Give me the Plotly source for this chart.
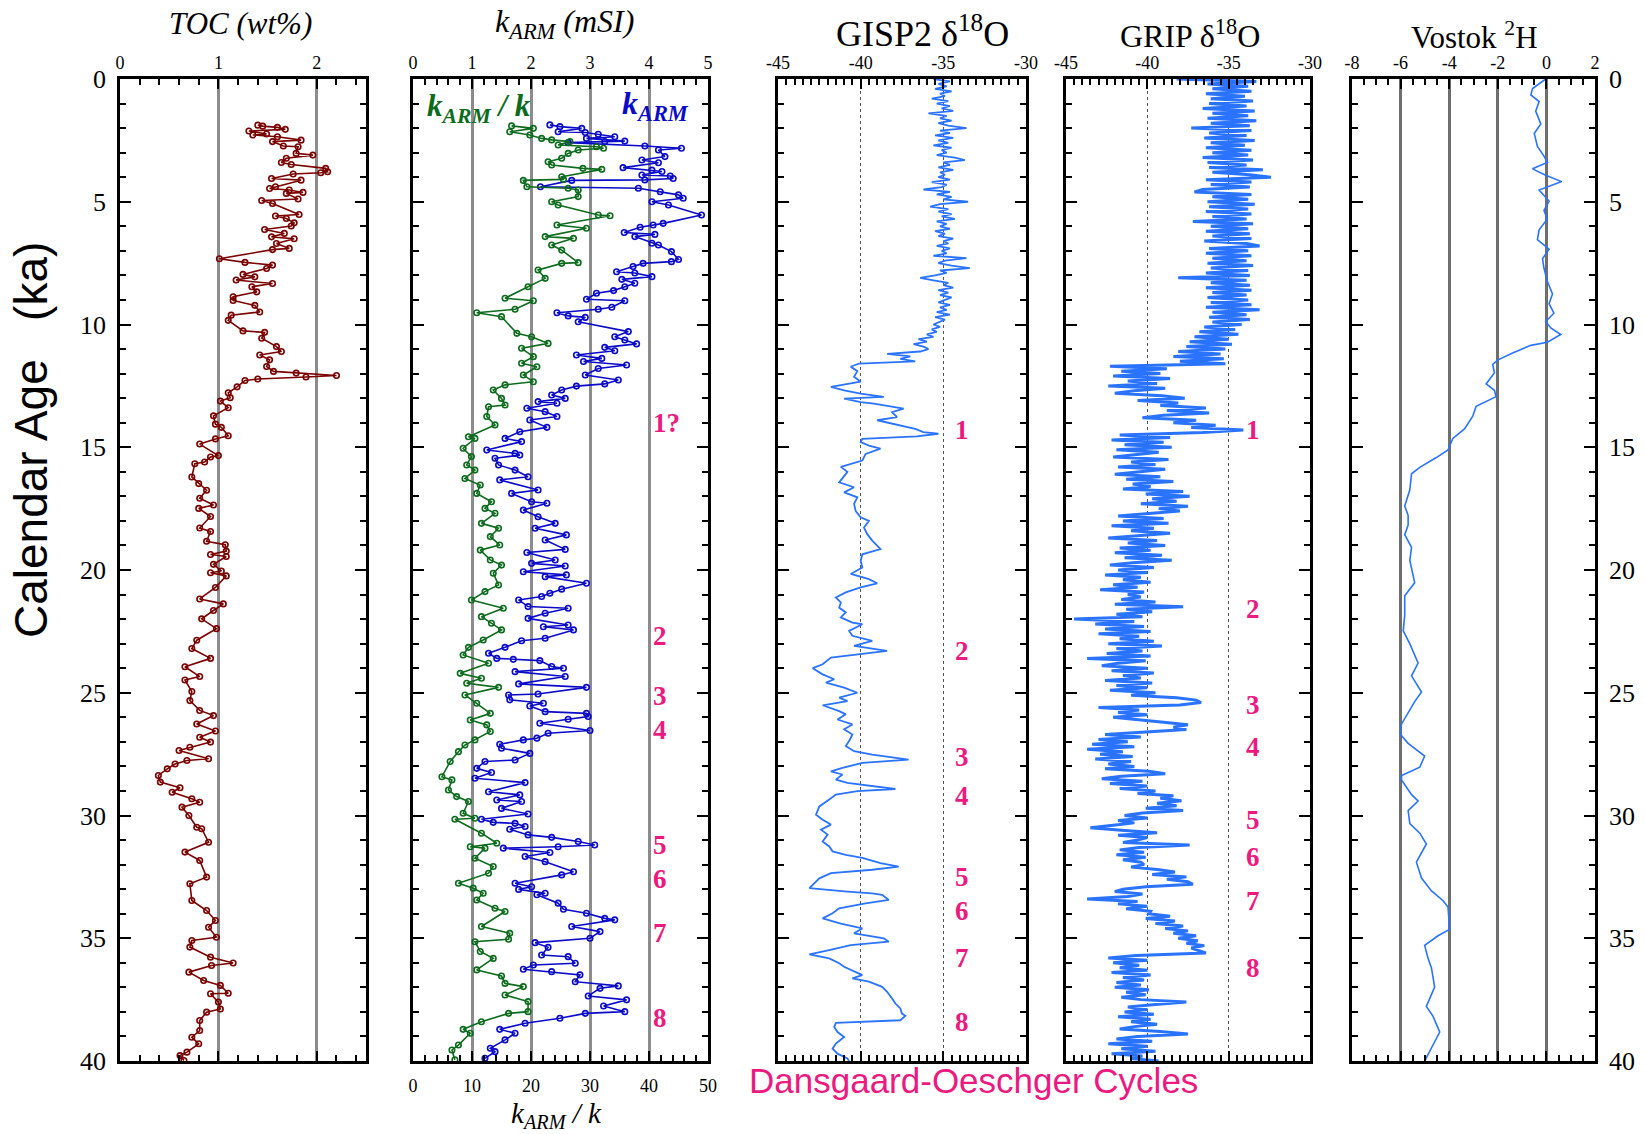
import plotly.graph_objects as go

# ---------------- DATA ----------------
TOC_AGE = [1.88,1.92,1.97,2.05,2.12,2.24,2.28,2.35,2.49,2.55,2.73,2.76,3.03,3.10,3.23,3.40,3.48,3.64,3.78,3.82,3.87,
           4.05,4.12,4.39,4.46,4.52,4.62,4.66,4.89,4.95,5.07,5.52,5.58,5.68,5.86,5.99,6.13,6.29,6.43,6.51,6.70,6.90,6.95,
           7.32,7.47,7.58,7.72,7.96,8.06,8.19,8.33,8.46,8.67,8.87,9.02,9.22,9.49,9.62,9.83,10.26,10.32,10.56,10.90,11.10,
           11.24,11.44,11.71,11.91,11.98,12.08,12.14,12.22,12.28,12.54,12.78,12.98,13.12,13.39,13.72,14.06,14.19,14.53,
           14.66,14.87,15.34,15.40,15.60,15.67,16.21,16.48,16.75,17.08,17.35,17.49,17.82,18.29,18.43,18.83,18.97,19.23,
           19.37,19.45,19.77,20.04,20.11,20.24,20.71,21.18,21.38,21.65,21.99,22.39,22.86,23.20,23.60,23.94,24.34,24.48,
           24.95,25.32,25.72,25.93,26.27,26.56,26.81,27.01,27.22,27.35,27.69,27.76,27.90,28.10,28.37,28.64,28.87,29.05,
           29.32,29.46,29.66,30.00,30.48,30.54,31.09,31.49,31.83,32.51,32.78,33.46,33.87,34.28,34.55,34.96,35.09,35.36,
           35.77,36.01,36.11,36.38,36.72,36.92,37.24,37.26,37.60,37.88,38.01,38.35,38.76,39.03,39.30,39.64,39.78,39.98]
TOC_VAL = [1.40,1.45,1.60,1.68,1.31,1.49,1.35,1.60,1.84,1.55,1.66,1.81,1.79,1.96,1.69,1.64,1.74,2.09,2.11,2.04,1.76,
           1.54,1.84,1.58,1.52,1.72,1.86,1.69,1.81,1.44,1.55,1.82,1.58,1.69,1.77,1.74,1.47,1.67,1.54,1.77,1.59,1.72,1.55,
           1.01,1.27,1.55,1.49,1.25,1.37,1.18,1.55,1.34,1.39,1.15,1.15,1.37,1.42,1.13,1.10,1.25,1.47,1.44,1.59,1.64,
           1.42,1.52,1.49,1.56,1.79,2.20,1.89,1.40,1.27,1.19,1.10,1.12,1.02,1.10,0.95,0.97,1.03,1.10,
           0.97,0.81,1.00,0.92,0.86,0.76,0.73,0.80,0.88,0.81,0.95,0.80,0.92,0.81,0.92,0.88,1.07,1.08,
           0.92,1.08,0.95,1.03,0.92,1.08,0.97,0.81,1.05,0.95,0.83,0.98,0.78,0.73,0.92,0.66,0.81,0.66,
           0.73,0.71,0.81,0.95,0.78,0.97,0.81,0.92,0.71,0.60,0.90,0.68,0.56,0.48,0.39,0.41,0.61,0.53,
           0.73,0.81,0.63,0.70,0.78,0.83,0.90,0.66,0.81,0.88,0.71,0.73,0.88,0.97,0.90,0.98,0.73,0.71,
           0.92,1.15,0.93,0.70,0.85,1.02,1.10,0.92,1.00,1.02,0.88,0.81,0.81,0.73,0.80,0.68,0.61,0.65]

KARM_AGE = [1.87,1.94,2.01,2.15,2.18,2.25,2.35,2.42,2.53,2.55,2.59,2.73,2.82,2.89,3.16,3.30,3.41,3.61,3.71,3.77,3.91,
            3.95,4.05,4.11,4.13,4.39,4.45,4.59,4.72,4.86,5.00,5.13,5.54,5.88,5.95,6.04,6.25,6.33,6.42,6.69,6.76,7.03,
            7.35,7.44,7.51,7.64,7.85,7.90,8.05,8.16,8.32,8.46,8.62,8.73,8.97,9.03,9.30,9.38,9.52,9.65,9.71,9.89,10.29,
            10.50,10.63,10.79,10.93,11.07,11.24,11.38,11.51,11.65,11.79,12.06,12.26,12.42,12.51,12.67,12.87,13.01,13.14,
            13.21,13.41,13.55,13.75,13.89,14.19,14.37,14.64,14.77,15.11,15.25,15.32,15.45,15.72,15.93,16.20,16.33,16.74,
            16.88,17.22,17.28,17.56,17.83,18.10,18.30,18.57,18.78,19.16,19.29,19.59,19.73,19.84,20.07,20.20,20.27,20.54,
            20.78,20.95,21.08,21.22,21.49,21.56,21.76,21.97,22.24,22.31,22.44,22.78,22.88,23.15,23.39,23.60,23.64,23.69,
            23.93,24.00,24.14,24.34,24.64,24.78,25.05,25.09,25.29,25.43,25.54,25.77,25.84,25.97,26.08,26.24,26.54,26.65,
            26.85,26.92,27.10,27.26,27.47,27.74,27.80,28.08,28.25,28.48,28.66,29.03,29.16,29.37,29.43,29.71,29.94,30.15,
            30.28,30.32,30.45,30.56,30.79,30.89,31.06,31.20,31.27,31.33,31.51,31.67,31.88,32.29,32.42,32.76,32.90,33.01,
            33.17,33.23,33.57,33.82,33.98,34.19,34.25,34.52,34.73,35.00,35.18,35.37,35.68,35.75,36.02,36.09,36.26,36.36,
            36.49,36.77,36.94,37.04,37.35,37.51,37.76,37.99,38.06,38.26,38.46,38.71,38.87,39.14,39.48,39.62,39.89]
KARM_VAL = [2.32,2.49,2.86,2.46,2.92,3.14,3.42,2.94,3.59,3.25,2.63,3.93,4.55,4.16,4.27,3.88,4.16,3.56,4.05,4.22,3.88,
            4.36,4.41,3.93,2.69,2.16,3.82,4.19,4.50,4.58,4.05,4.33,4.89,4.24,4.07,3.85,3.58,4.10,3.76,4.05,4.16,4.38,
            4.50,4.38,3.90,3.73,3.45,3.76,4.05,3.54,3.76,3.59,3.40,3.11,2.94,3.59,3.37,3.14,2.44,2.63,2.92,2.80,3.65,
            3.42,3.59,3.79,3.25,3.42,2.77,3.20,2.89,3.62,3.14,2.92,3.48,3.25,2.77,2.52,2.35,2.58,2.12,
            2.44,1.93,2.24,2.44,1.98,2.27,1.81,1.56,1.84,1.25,1.73,1.81,1.39,1.45,1.73,1.95,1.47,2.12,
            1.67,2.01,2.27,1.87,2.12,2.41,2.07,2.60,2.24,2.58,1.93,2.41,2.01,2.58,1.87,2.60,2.24,2.94,
            2.52,2.32,2.18,1.79,1.95,2.63,2.24,1.95,2.63,2.21,2.72,2.24,1.84,1.56,1.28,1.42,1.70,2.15,
            2.35,2.55,1.73,2.58,1.79,2.94,2.12,1.62,1.64,2.21,1.98,2.24,2.94,2.97,2.63,2.15,3.00,2.29,
            2.10,1.87,1.47,1.50,1.98,1.73,1.22,1.08,1.33,1.05,1.90,1.28,1.81,1.42,1.84,1.50,1.95,1.16,
            1.36,1.73,1.90,1.64,1.95,2.35,2.80,3.08,2.46,1.53,2.32,1.90,2.24,2.72,2.52,1.73,2.01,1.79,
            2.24,2.10,2.46,2.55,2.94,3.25,3.42,2.69,3.17,3.00,2.07,2.29,2.18,2.63,2.75,2.04,1.87,2.35,
            2.83,2.75,3.48,3.17,2.97,3.62,3.23,3.59,2.92,2.49,1.90,1.47,1.73,1.56,1.31,1.39,1.22]

KRATIO_AGE = [1.91,2.01,2.15,2.28,2.42,2.48,2.55,2.69,2.76,2.82,2.89,3.03,3.23,3.37,3.50,3.64,3.68,3.98,4.09,4.13,
              4.39,4.45,4.52,4.79,5.00,5.13,5.54,5.57,5.95,6.08,6.42,6.49,6.76,6.97,7.48,7.51,7.78,8.12,8.46,8.93,
              9.03,9.38,9.52,9.68,10.36,10.50,10.77,10.97,11.31,11.58,11.72,12.06,12.33,12.46,12.67,13.01,13.28,
              13.35,13.75,14.09,14.57,14.64,15.04,15.38,15.72,15.93,16.27,16.54,16.88,17.22,17.49,17.69,18.10,
              18.30,18.64,18.98,19.19,19.59,19.80,20.13,20.61,20.88,21.22,21.56,21.90,22.17,22.44,22.85,23.15,
              23.46,23.80,24.21,24.41,24.61,24.78,25.09,25.43,25.84,26.11,26.31,26.58,26.92,27.13,27.40,27.80,
              28.42,28.55,28.96,29.23,29.43,29.91,30.11,30.15,30.72,31.13,31.27,31.33,31.74,32.08,32.35,32.76,
              32.96,33.17,33.44,33.78,33.91,34.52,34.80,35.04,35.14,35.54,35.82,36.29,36.54,36.84,36.97,37.31,
              37.58,37.99,38.06,38.40,38.71,38.87,39.35,39.55,39.95]
KRATIO_VAL = [16.7,20.4,16.4,19.8,21.8,23.5,26.6,24.6,31.1,32.3,28.0,26.3,25.2,22.9,23.5,28.8,32.0,25.2,25.5,18.7,
              19.3,26.3,28.0,28.0,23.5,24.6,31.4,33.4,24.4,29.4,22.4,27.2,23.5,25.2,28.0,25.2,21.2,22.4,19.5,15.6,
              20.4,17.3,10.8,15.0,17.6,20.1,22.9,18.4,20.4,18.4,21.0,18.7,20.4,15.6,13.6,15.0,15.6,
              12.8,12.5,13.9,9.4,10.5,8.5,9.9,9.1,10.5,8.8,11.4,10.8,13.3,12.2,13.9,11.6,
              14.5,13.1,14.7,11.4,13.1,15.0,13.6,14.5,12.2,9.9,15.3,11.6,13.3,15.0,11.9,9.4,
              8.5,12.8,8.0,11.6,9.1,14.5,8.8,10.8,13.1,9.7,12.5,13.1,10.5,8.8,7.7,6.3,
              4.9,6.6,6.0,7.4,9.4,8.5,10.5,7.1,11.6,14.2,9.7,12.2,10.5,13.6,12.8,7.7,
              10.2,11.9,10.8,13.9,15.6,11.6,16.4,16.2,10.5,11.4,13.6,10.8,15.0,15.6,18.7,15.6,
              19.5,19.5,16.2,11.6,8.5,9.7,7.7,6.6,7.1]

GISP2_AGE = [0.0,0.1,0.2,0.3,0.4,0.5,0.6,0.7,0.8,0.9,1.0,1.1,1.2,1.3,1.4,1.5,1.6,1.7,1.8,1.9,
             2.0,2.1,2.2,2.3,2.4,2.5,2.6,2.7,2.8,2.9,3.0,3.1,3.2,3.3,3.4,3.5,3.6,3.7,3.8,3.9,
             4.0,4.1,4.2,4.3,4.4,4.5,4.6,4.7,4.8,4.9,5.0,5.1,5.2,5.3,5.4,5.5,5.6,5.7,5.8,5.9,
             6.0,6.1,6.2,6.3,6.4,6.5,6.6,6.7,6.8,6.9,7.0,7.1,7.2,7.3,7.4,7.5,7.6,7.7,7.8,7.9,
             8.0,8.1,8.2,8.3,8.4,8.5,8.6,8.7,8.8,8.9,9.0,9.1,9.2,9.3,9.4,9.5,9.6,9.7,9.8,9.9,
             10.0,10.1,10.2,10.3,10.4,10.5,10.6,10.7,10.8,10.9,11.0,11.1,11.2,11.3,11.4,11.5,
             11.59,11.72,11.9,12.13,12.33,12.54,12.68,12.82,12.95,13.02,13.16,13.22,13.43,13.57,13.77,13.9,14.04,
             14.25,14.38,14.45,14.56,14.66,14.79,14.93,15.06,15.27,15.54,15.8,16.0,16.43,16.63,16.84,17.04,17.31,
             17.6,17.85,18.0,18.27,18.54,18.8,19.15,19.36,19.63,19.9,20.16,20.37,20.54,20.71,20.91,21.12,21.32,
             21.53,21.73,21.93,22.14,22.21,22.48,22.68,22.89,23.09,23.29,23.43,23.57,23.84,24.0,24.25,24.45,24.59,
             24.79,25.0,25.2,25.34,25.51,25.75,25.88,26.09,26.29,26.49,26.7,26.97,27.17,27.38,27.52,27.72,27.86,
             28.06,28.2,28.33,28.54,28.67,28.81,28.92,29.01,29.15,29.35,29.63,29.97,30.17,30.37,30.58,30.78,31.06,
             31.26,31.46,31.6,31.73,31.94,32.08,32.21,32.35,32.56,32.76,32.96,33.1,33.17,33.23,33.44,33.58,33.78,
             33.98,34.19,34.4,34.6,34.8,35.0,35.14,35.28,35.48,35.66,35.82,36.02,36.16,36.3,36.5,36.63,36.77,36.98,
             37.18,37.45,37.66,37.86,38.07,38.16,38.34,38.45,38.61,38.82,39.02,39.29,39.5,39.7,39.9,40.0]
GISP2_VAL = [-35.6,-34.6,-35.3,-34.8,-35.5,-34.5,-35.2,-34.9,-35.7,-34.7,
             -35.4,-34.6,-35.1,-34.4,-35.9,-34.8,-35.2,-34.5,-35.3,-34.7,
             -33.6,-35.2,-34.6,-35.5,-34.4,-35.3,-34.7,-35.6,-34.5,-35.1,
             -34.8,-35.4,-34.3,-33.7,-35.0,-34.6,-35.3,-34.4,-35.2,-34.9,
             -35.3,-34.6,-35.7,-34.8,-35.1,-36.2,-34.6,-35.4,-34.5,-35.0,
             -33.5,-35.2,-35.8,-34.7,-35.3,-34.5,-35.1,-34.3,-35.4,-34.8,
             -35.2,-34.6,-35.5,-34.9,-35.3,-34.4,-35.0,-34.7,-35.4,-34.6,
             -35.1,-34.8,-35.6,-33.6,-34.9,-35.3,-34.5,-33.4,-35.2,-34.8,
             -35.5,-36.4,-35.6,-34.7,-35.0,-34.4,-35.3,-34.7,-35.2,-34.5,
             -34.9,-35.3,-34.6,-35.2,-34.8,-35.4,-34.6,-35.5,-34.9,-35.3,
             -35.6,-35.2,-35.7,-35.4,-36.0,-35.6,-36.5,-36.0,-36.8,-36.2,
             -35.9,-36.4,-38.4,-37.0,-37.6,-36.7,
             -40.1,-40.6,-40.2,-40.4,-40.0,-41.8,-41.0,-40.0,-38.6,-41.0,-40.0,-39.2,-37.4,-38.1,-37.8,-39.0,-38.1,
             -36.7,-36.2,-35.3,-36.6,-39.9,-40.0,-39.5,-38.8,-39.7,-39.9,-41.2,-40.8,-41.3,-40.4,-41.0,-40.2,-40.4,
             -40.3,-40.0,-39.5,-39.8,-39.6,-39.3,-38.8,-39.9,-40.0,-39.9,-40.6,-39.5,-39.0,-40.0,-40.9,-41.5,-41.2,
             -41.3,-40.9,-41.2,-40.5,-39.9,-40.7,-40.5,-39.3,-40.4,-38.4,-40.2,-41.8,-42.3,-42.9,-42.3,-41.6,-42.1,
             -41.0,-40.2,-41.3,-40.8,-42.3,-41.3,-40.9,-41.4,-40.5,-41.0,-40.5,-40.7,-40.9,-40.4,-39.3,-37.1,-39.9,
             -41.1,-41.8,-41.1,-41.5,-40.8,-39.0,-37.9,-40.2,-41.5,-41.9,-42.5,-42.7,-42.3,-41.8,-42.4,-42.0,-42.3,
             -41.9,-41.7,-40.9,-39.9,-38.8,-37.7,-39.3,-41.8,-42.5,-42.8,-43.1,-40.8,-39.3,-38.7,-38.3,-39.7,-41.3,
             -41.7,-42.3,-41.2,-39.9,-40.4,-38.6,-38.3,-40.6,-41.9,-43.1,-41.9,-41.3,-41.0,-40.5,-39.9,-40.5,-39.5,-38.7,
             -38.4,-38.1,-37.9,-37.6,-37.5,-37.3,-37.6,-41.5,-41.6,-41.4,-41.0,-41.5,-41.7,-41.4,-40.8,-40.7]

GRIP_AGE = [0.0,0.1,0.2,0.3,0.4,0.5,0.6,0.7,0.8,0.9,1.0,1.1,1.2,1.3,1.4,1.5,1.6,1.7,1.8,1.9,
            2.0,2.1,2.2,2.3,2.4,2.5,2.6,2.7,2.8,2.9,3.0,3.1,3.2,3.3,3.4,3.5,3.6,3.7,3.8,3.9,
            4.0,4.1,4.2,4.3,4.4,4.5,4.6,4.7,4.8,4.9,5.0,5.1,5.2,5.3,5.4,5.5,5.6,5.7,5.8,5.9,
            6.0,6.1,6.2,6.3,6.4,6.5,6.6,6.7,6.8,6.9,7.0,7.1,7.2,7.3,7.4,7.5,7.6,7.7,7.8,7.9,
            8.0,8.1,8.2,8.3,8.4,8.5,8.6,8.7,8.8,8.9,9.0,9.1,9.2,9.3,9.4,9.5,9.6,9.7,9.8,9.9,
            10.0,10.1,10.2,10.3,10.4,10.5,10.6,10.7,10.8,10.9,11.0,11.1,11.2,11.3,11.4,11.5,11.6,11.7,11.8,11.9,
            12.0,12.1,12.2,12.3,12.4,12.5,12.6,12.7,12.8,12.9,13.0,13.1,13.2,13.3,13.4,13.5,13.6,13.7,13.8,13.9,
            14.0,14.1,14.2,14.3,14.4,14.5,14.6,14.7,14.8,14.9,15.0,15.1,15.2,15.3,15.4,15.5,15.6,15.7,15.8,15.9,
            16.0,16.1,16.2,16.3,16.4,16.5,16.6,16.7,16.8,16.9,17.0,17.1,17.2,17.3,17.4,17.5,17.6,17.7,17.8,17.9,
            18.0,18.1,18.2,18.3,18.4,18.5,18.6,18.7,18.8,18.9,19.0,19.1,19.2,19.3,19.4,19.5,19.6,19.7,19.8,19.9,
            20.0,20.1,20.2,20.3,20.4,20.5,20.6,20.7,20.8,20.9,21.0,21.1,21.2,21.3,21.4,21.5,21.6,21.7,21.8,21.9,
            22.0,22.1,22.2,22.3,22.4,22.5,22.6,22.7,22.8,22.9,23.0,23.1,23.2,23.3,23.4,23.5,23.6,23.7,23.8,23.9,
            24.0,24.1,24.2,24.3,24.4,24.5,24.6,24.7,24.8,24.9,25.0,25.1,25.2,25.3,25.4,25.5,25.6,25.7,25.8,25.9,
            26.0,26.1,26.2,26.3,26.4,26.5,26.6,26.7,26.8,26.9,27.0,27.1,27.2,27.3,27.4,27.5,27.6,27.7,27.8,27.9,
            28.0,28.1,28.2,28.3,28.4,28.5,28.6,28.7,28.8,28.9,29.0,29.1,29.2,29.3,29.4,29.5,29.6,29.7,29.8,29.9,
            30.0,30.1,30.2,30.3,30.4,30.5,30.6,30.7,30.8,30.9,31.0,31.1,31.2,31.3,31.4,31.5,31.6,31.7,31.8,31.9,
            32.0,32.1,32.2,32.3,32.4,32.5,32.6,32.7,32.8,32.9,33.0,33.1,33.2,33.3,33.4,33.5,33.6,33.7,33.8,33.9,
            34.0,34.1,34.2,34.3,34.4,34.5,34.6,34.7,34.8,34.9,35.0,35.1,35.2,35.3,35.4,35.5,35.6,35.7,35.8,35.9,
            36.0,36.1,36.2,36.3,36.4,36.5,36.6,36.7,36.8,36.9,37.0,37.1,37.2,37.3,37.4,37.5,37.6,37.7,37.8,37.9,
            38.0,38.1,38.2,38.3,38.4,38.5,38.6,38.7,38.8,38.9,39.0,39.1,39.2,39.3,39.4,39.5,39.6,39.7,39.8,39.9,40.0]
GRIP_VAL = [-38.2,-33.3,-36.3,-33.8,-36.0,-33.6,-36.4,-34.0,-36.1,-33.5,
            -36.2,-33.9,-36.6,-33.4,-36.0,-33.8,-36.3,-33.3,-36.1,-33.7,
            -37.3,-33.6,-36.2,-33.9,-36.5,-33.4,-36.1,-34.0,-36.4,-33.6,
            -36.0,-33.8,-36.6,-33.5,-36.3,-33.9,-36.2,-32.9,-36.0,-33.7,
            -32.4,-36.4,-33.6,-36.1,-33.7,-36.6,-37.1,-33.6,-36.0,-33.8,
            -36.3,-33.4,-36.2,-33.8,-36.4,-33.6,-36.0,-33.9,-37.2,-33.5,
            -36.1,-33.8,-36.4,-33.7,-36.0,-33.6,-36.5,-33.9,-33.1,-36.2,
            -33.8,-36.4,-33.6,-36.0,-33.9,-36.3,-33.5,-36.1,-33.8,-36.4,
            -33.7,-38.1,-33.9,-36.1,-33.7,-36.4,-33.6,-36.0,-33.9,-36.3,
            -33.8,-36.1,-33.6,-36.4,-33.1,-36.0,-33.9,-36.2,-33.7,-36.0,
            -34.2,-36.5,-34.6,-36.8,-34.4,-37.1,-35.0,-37.4,-34.8,-37.6,
            -35.2,-38.1,-35.5,-38.4,-35.3,-38.0,-35.2,-42.3,-38.8,-41.6,
            -39.2,-42.1,-38.6,-41.2,-39.4,-42.4,-38.9,-40.8,-42.0,-39.1,
            -37.7,-40.6,-38.1,-39.2,-36.4,-38.8,-36.2,-39.0,-40.3,-37.0,
            -38.4,-35.8,-37.3,-34.1,-36.6,-41.7,-38.6,-42.2,-39.0,-41.4,
            -38.5,-41.9,-39.3,-40.8,-42.1,-38.7,-41.0,-39.5,-41.8,-38.9,
            -40.6,-42.0,-39.2,-41.3,-38.4,-40.9,-39.8,-41.5,-37.8,-40.1,
            -37.4,-39.7,-38.2,-40.4,-37.5,-39.3,-38.0,-40.2,-41.8,-39.0,
            -41.5,-38.7,-42.2,-39.6,-41.0,-38.6,-40.7,-42.4,-39.4,-41.2,
            -38.9,-41.7,-39.8,-42.0,-39.1,-41.4,-38.5,-40.9,-42.3,-39.6,
            -41.8,-40.0,-42.6,-40.4,-41.5,-39.8,-42.1,-40.6,-42.9,-40.2,
            -41.2,-40.4,-41.6,-39.5,-42.0,-37.8,-41.3,-39.7,-41.9,-40.3,
            -44.5,-40.8,-43.2,-40.2,-42.6,-39.8,-43.0,-40.5,-41.7,-39.6,
            -42.4,-39.1,-41.9,-40.3,-42.5,-39.8,-43.7,-40.1,-41.8,-42.8,
            -40.0,-42.2,-39.6,-41.5,-40.4,-42.6,-39.7,-41.9,-40.0,-42.3,
            -39.5,-41.0,-38.2,-37.0,-36.7,-38.0,-43.0,-40.5,-41.8,-40.0,
            -42.1,-40.3,-39.0,-37.5,-38.4,-37.6,-40.2,-42.6,-40.4,-43.0,
            -41.2,-43.4,-40.8,-43.7,-41.5,-42.9,-40.9,-43.2,-41.0,-42.4,
            -40.8,-42.6,-39.9,-38.9,-41.6,-42.8,-40.3,-42.3,-40.0,-41.7,
            -39.5,-40.6,-38.4,-39.2,-37.9,-39.4,-38.2,-40.1,-37.8,-40.3,
            -41.4,-40.0,-41.8,-40.8,-42.1,-43.5,-41.6,-39.4,-41.8,-40.0,
            -40.6,-41.5,-37.4,-40.5,-41.7,-40.2,-41.9,-40.1,-41.5,-40.4,
            -40.2,-41.0,-39.4,-38.3,-39.7,-37.6,-38.8,-37.5,-37.2,-40.1,
            -41.5,-42.0,-40.3,-41.2,-43.7,-40.6,-41.8,-40.0,-41.3,-39.8,
            -39.9,-38.6,-40.1,-38.3,-39.5,-37.8,-38.9,-37.5,-38.4,-37.0,
            -38.1,-36.9,-37.6,-36.5,-37.3,-36.8,-36.4,-40.7,-42.4,-40.0,
            -42.1,-40.5,-41.7,-40.0,-42.2,-39.8,-41.5,-40.2,-41.9,-40.4,
            -42.0,-39.9,-41.3,-40.1,-41.6,-40.4,-37.6,-39.5,-41.2,-40.0,
            -41.4,-39.6,-41.8,-39.8,-41.0,-39.4,-40.8,-41.7,-39.2,-37.5,
            -40.6,-41.9,-39.7,-42.4,-40.0,-41.6,-39.5,-42.2,-40.3,-41.0,-39.3]

VOSTOK_AGE = [0.0,0.39,0.65,0.92,1.31,1.83,2.22,2.75,3.14,3.40,3.66,3.92,4.18,4.52,4.97,5.36,5.70,6.14,6.54,6.93,
              7.32,7.71,8.24,8.76,9.15,9.54,9.88,10.14,10.41,10.72,10.85,11.16,11.45,11.63,11.97,12.42,12.68,12.94,
              13.33,13.73,14.25,14.64,15.11,15.42,15.82,16.08,16.73,17.39,17.78,18.17,18.56,19.08,19.61,20.52,21.05,
              21.83,22.48,23.01,23.79,24.31,24.97,25.36,26.27,26.67,27.06,27.58,28.03,28.37,28.55,29.15,29.41,29.80,
              30.33,30.72,31.16,31.90,32.55,33.07,33.46,33.73,34.64,34.90,35.29,35.82,36.21,36.99,37.78,38.17,38.82,
              39.35,40.0]
VOSTOK_VAL = [-0.03,-0.57,-0.64,-0.30,-0.44,-0.23,-0.50,-0.37,-0.10,0.04,-0.57,-0.03,0.63,-0.30,0.11,-0.10,0.04,-0.30,
              -0.37,0.11,-0.16,-0.10,0.04,0.25,0.11,0.31,-0.03,0.18,0.59,0.04,-0.64,-1.39,-2.01,-2.21,-2.14,-2.48,-2.14,
              -2.07,-2.89,-3.03,-3.37,-3.85,-4.05,-4.53,-5.21,-5.55,-5.62,-5.83,-5.69,-5.69,-5.83,-5.55,-5.62,-5.42,
              -5.83,-5.83,-5.89,-5.62,-5.28,-5.55,-5.14,-5.42,-5.96,-6.03,-5.69,-5.01,-5.21,-5.96,-5.96,-5.55,-5.28,
              -5.69,-5.62,-5.21,-4.94,-5.35,-5.14,-4.73,-4.26,-4.05,-3.98,-4.46,-5.01,-4.87,-4.73,-4.60,-4.94,-4.67,
              -4.39,-4.67,-5.01]

AGE_TICKS = [0, 5, 10, 15, 20, 25, 30, 35, 40]
TOC_TICKS = [0, 1, 2]
KARM_TICKS = [0, 1, 2, 3, 4, 5]
KRATIO_TICKS = [0, 10, 20, 30, 40, 50]
D18O_TICKS = [-45, -40, -35, -30]
VOSTOK_TICKS = [-8, -6, -4, -2, 0, 2]

DO_GISP2 = [("1", -33.9, 14.3), ("2", -33.9, 23.3), ("3", -33.9, 27.6), ("4", -33.9, 29.2),
            ("5", -33.9, 32.5), ("6", -33.9, 33.9), ("7", -33.9, 35.8), ("8", -33.9, 38.4)]
DO_GRIP = [("1", -33.5, 14.3), ("2", -33.5, 21.6), ("3", -33.5, 25.5), ("4", -33.5, 27.2),
           ("5", -33.5, 30.2), ("6", -33.5, 31.7), ("7", -33.5, 33.5), ("8", -33.5, 36.2)]
DO_KARM = [("1?", 4.3, 14.0), ("2", 4.19, 22.7), ("3", 4.19, 25.15), ("4", 4.19, 26.5),
           ("5", 4.19, 31.2), ("6", 4.19, 32.6), ("7", 4.19, 34.8), ("8", 4.19, 38.25)]

# ---------------- LAYOUT ----------------
W, H = 1645, 1134
SERIF = "Liberation Serif, Times New Roman, serif"
NARROW = "Liberation Sans Narrow, Arial Narrow, Liberation Sans, Arial, sans-serif"
PINK = "#ec1a80"
ICE = "#2a73ff"

def px(x):
    return x / W

def py(y):
    return 1 - y / H

PANELS = [(120, 366), (413, 708), (778, 1026), (1066, 1310), (1352, 1595)]
YDOM = [py(1061), py(79)]

fig = go.Figure()

def pts(x, y, xa, ya, color):
    fig.add_trace(go.Scatter(
        x=x, y=y, xaxis=xa, yaxis=ya, mode="lines+markers",
        line=dict(color=color, width=1.6),
        marker=dict(symbol="circle-open", size=5.5, color=color, line=dict(width=1.6, color=color)),
        showlegend=False, hoverinfo="skip"))

def ln(x, y, xa, ya, width):
    fig.add_trace(go.Scatter(
        x=x, y=y, xaxis=xa, yaxis=ya, mode="lines",
        line=dict(color=ICE, width=width), showlegend=False, hoverinfo="skip"))

pts(TOC_VAL, TOC_AGE, "x", "y", "#7a0000")
pts(KRATIO_VAL, KRATIO_AGE, "x6", "y2", "#0c6b1c")
pts(KARM_VAL, KARM_AGE, "x2", "y2", "#0a0ac8")
ln(GISP2_VAL, GISP2_AGE, "x3", "y3", 1.8)
ln(GRIP_VAL, GRIP_AGE, "x4", "y4", 3.0)
ln(VOSTOK_VAL, VOSTOK_AGE, "x5", "y5", 1.6)

def xax(i, rng, tv, minor_dt, gridcolor, gridwidth, griddash="solid", mirror="ticks"):
    x0, x1 = PANELS[i]
    return dict(
        domain=[px(x0), px(x1)], range=rng, side="top", anchor="y" if i == 0 else "y%d" % (i + 1),
        automargin=False,
        tickmode="array", tickvals=tv, ticktext=[str(v) for v in tv],
        ticks="inside", ticklen=10, tickwidth=1.5, tickcolor="black",
        minor=dict(tickmode="linear", tick0=rng[0], dtick=minor_dt, ticks="inside",
                   ticklen=6, tickwidth=1.5, tickcolor="black", showgrid=False),
        showline=True, linecolor="black", linewidth=2.5, mirror=mirror,
        showgrid=True, gridcolor=gridcolor, gridwidth=gridwidth, griddash=griddash,
        zeroline=False, tickfont=dict(family=SERIF, size=18, color="black"),
        fixedrange=True)

def yax(i, labels, side="left"):
    d = dict(
        domain=YDOM, range=[40, 0], anchor="x" if i == 0 else "x%d" % (i + 1),
        automargin=False,
        tickmode="array", tickvals=AGE_TICKS, ticktext=[str(v) for v in AGE_TICKS],
        ticks="inside", ticklen=11, tickwidth=1.5, tickcolor="black",
        minor=dict(tickmode="linear", tick0=0, dtick=1, ticks="inside", ticklen=6,
                   tickwidth=1.5, tickcolor="black", showgrid=False),
        showline=True, linecolor="black", linewidth=2.5, mirror="ticks",
        showgrid=False, zeroline=False, showticklabels=labels, side=side,
        ticklabelstandoff=6,
        tickfont=dict(family=SERIF, size=26, color="black"), fixedrange=True)
    if i > 0:
        d["matches"] = "y"
    return d

GRAY = "#8c8c8c"
layout = dict(
    width=W, height=H, margin=dict(l=0, r=0, t=0, b=0, autoexpand=False),
    paper_bgcolor="white", plot_bgcolor="white", showlegend=False,
    xaxis=xax(0, [0, 2.5], TOC_TICKS, 0.2, GRAY, 2.5),
    xaxis2=xax(1, [0, 5], KARM_TICKS, 0.2, GRAY, 2.5),
    xaxis3=xax(2, [-45, -30], D18O_TICKS, 0.5, "#555555", 1.3, "dot"),
    xaxis4=xax(3, [-45, -30], D18O_TICKS, 0.5, "#555555", 1.3, "dot"),
    xaxis5=xax(4, [-8, 2], VOSTOK_TICKS, 0.5, "#6e6e6e", 2.5),
    xaxis6=dict(domain=[px(PANELS[1][0]), px(PANELS[1][1])], range=[0, 50], side="bottom",
                overlaying="x2", anchor="y2", tickmode="array", tickvals=KRATIO_TICKS,
                ticktext=[str(v) for v in KRATIO_TICKS], ticks="outside", ticklen=8,
                tickcolor="rgba(0,0,0,0)", showline=False,
                showgrid=False, zeroline=False, automargin=False,
                tickfont=dict(family=SERIF, size=18, color="black"), fixedrange=True),
    yaxis=yax(0, True, "left"),
    yaxis2=yax(1, False),
    yaxis3=yax(2, False),
    yaxis4=yax(3, False),
    yaxis5=yax(4, True, "right"),
)
fig.update_layout(**layout)

ann = []
def title(text, xc, yc, size=32):
    ann.append(dict(text=text, x=px(xc), y=py(yc), xref="paper", yref="paper",
                    showarrow=False, xanchor="center", yanchor="middle",
                    font=dict(family=SERIF, size=size, color="black")))

title("<i>TOC (wt%)</i>", 240, 23, 31)
title("<i>k<sub>ARM</sub> (mSI)</i>", 564, 23, 32)
title("GISP2 δ<sup>18</sup>O", 922, 31, 36)
title("GRIP δ<sup>18</sup>O", 1190, 34, 32)
title("Vostok <sup>2</sup>H", 1474, 35, 31)
title("<i>k<sub>ARM</sub> / k</i>", 556, 1115, 29)

for (t, xv, yv), xa, ya in ([(d, "x3", "y3") for d in DO_GISP2] + [(d, "x4", "y4") for d in DO_GRIP]
                            + [(d, "x2", "y2") for d in DO_KARM]):
    ann.append(dict(text="<b>%s</b>" % t, x=xv, y=yv, xref=xa, yref=ya, showarrow=False,
                    xanchor="center", yanchor="middle",
                    font=dict(family=SERIF, size=27, color=PINK)))

ann.append(dict(text="<b><i>k<sub>ARM</sub> / k</i></b>", x=px(425), y=py(108), xref="paper", yref="paper",
                showarrow=False, xanchor="left", yanchor="middle",
                font=dict(family=SERIF, size=31, color="#0c6b1c")))
ann.append(dict(text="<b><i>k<sub>ARM</sub></i></b>", x=px(691), y=py(106), xref="paper", yref="paper",
                showarrow=False, xanchor="right", yanchor="middle",
                font=dict(family=SERIF, size=32, color="#0a0ac8")))
ann.append(dict(text="Calendar Age&nbsp;&nbsp;&nbsp;(ka)", x=px(31), y=py(440), xref="paper", yref="paper",
                showarrow=False, textangle=-90, xanchor="center", yanchor="middle",
                font=dict(family=NARROW, size=46, color="black")))
ann.append(dict(text="Dansgaard-Oeschger Cycles", x=px(973), y=py(1080), xref="paper", yref="paper",
                showarrow=False, xanchor="center", yanchor="middle",
                font=dict(family=NARROW, size=35, color=PINK)))

fig.update_layout(annotations=ann)
fig.write_html("out.html", config={"displayModeBar": False},
               post_script="document.body.style.margin='0px';document.body.style.overflow='hidden';")
